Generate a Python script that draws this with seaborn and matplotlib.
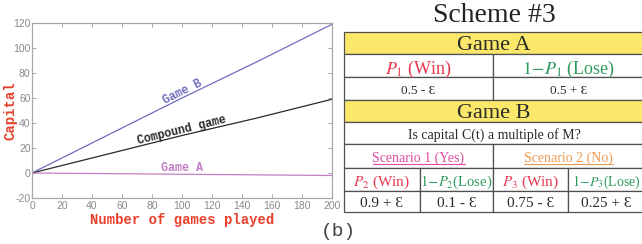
import numpy as np
import pandas as pd
import seaborn as sns
import matplotlib
matplotlib.use("Agg")
import matplotlib.pyplot as plt
from matplotlib.patches import Rectangle

# values
games = [0, 50, 100, 150, 200]
game_b = [0, 30, 60, 89, 119]
compound = [0, 15, 30, 44, 59]
game_a = [0, -0.5, -1, -1.5, -2]
series_names = ["Game B", "Compound game", "Game A"]
series_colors = ["#6e6ebe", "#2a2a2a", "#c27ec4"]
x_ticks = list(range(0, 201, 20))
y_ticks = list(range(-20, 121, 20))

# table content of the right panel
red, green, pink, orange = "#e8384f", "#2f9a5e", "#e04a9e", "#f09a50"
dark, yellow = "#2a2a2a", "#fbe86a"
table_rows = [
    [("Game A", 0, 4, dark, 16)],
    [(r"$P_{1}$ (Win)", 0, 2, red, 13), (r"$\mathit{1\!-\!P}_{1}$ (Lose)", 2, 4, green, 13)],
    [("0.5 - Ɛ", 0, 2, dark, 9.5), ("0.5 + Ɛ", 2, 4, dark, 9.5)],
    [("Game B", 0, 4, dark, 16)],
    [("Is capital C(t) a multiple of M?", 0, 4, dark, 10)],
    [("Scenario 1 (Yes)", 0, 2, pink, 10), ("Scenario 2 (No)", 2, 4, orange, 10)],
    [(r"$P_{2}$ (Win)", 0, 1, red, 11), (r"$\mathit{1\!-\!P}_{2}$(Lose)", 1, 2, green, 10.5),
     (r"$P_{3}$ (Win)", 2, 3, red, 11), (r"$\mathit{1\!-\!P}_{3}$(Lose)", 3, 4, green, 10)],
    [("0.9 + Ɛ", 0, 1, dark, 11), ("0.1 - Ɛ", 1, 2, dark, 11),
     ("0.75 - Ɛ", 2, 3, dark, 11), ("0.25 + Ɛ", 3, 4, dark, 11)],
]
yellow_rows = [0, 3]
underlined_rows = [5]
col_edges = [344, 420, 493, 568, 644]
row_edges = [32, 54, 77, 100, 122, 144, 168, 191, 212]

df = pd.DataFrame({
    "games": games * 3,
    "capital": game_b + compound + game_a,
    "series": [n for n in series_names for _ in games],
})

sns.set_style("ticks")
plt.rcParams["font.family"] = ["Liberation Sans", "DejaVu Sans"]
plt.rcParams["mathtext.fontset"] = "stix"
plt.rcParams["axes.unicode_minus"] = False
serif = ["Liberation Serif", "DejaVu Serif"]

fig = plt.figure(figsize=(6.42, 2.44), dpi=100)
ax = fig.add_axes([32 / 642, 46 / 244, 300 / 642, 175 / 244])
sns.lineplot(data=df, x="games", y="capital", hue="series", hue_order=series_names,
             palette=series_colors, legend=False, linewidth=0.9, ax=ax)
ax.set_xlim(0, 200)
ax.set_ylim(-20, 120)
ax.set_xticks(x_ticks)
ax.set_yticks(y_ticks)
ax.tick_params(direction="in", length=3, width=0.6, colors="#9a9a9a", labelcolor="#8a8a8a",
               labelsize=7.5, top=True, right=True, pad=2)
ax.tick_params(axis="y", pad=1)
for s in ax.spines.values():
    s.set_color("#a8a8a8")
    s.set_linewidth(0.9)

mono = {"family": "Liberation Mono", "weight": "bold"}
ax.set_xlabel("Number of games played", color="#e8402a", fontsize=10, **mono)
ax.set_ylabel("Capital", color="#e8402a", fontsize=10, **mono)
ax.xaxis.set_label_coords(0.5, -0.085)
ax.yaxis.set_label_coords(-0.05, 0.5)

ax.text(100, 64.5, "Game B", color=series_colors[0], fontsize=8.5, rotation=26.4,
        ha="center", va="center", rotation_mode="anchor", **mono)
ax.text(100, 34.5, "Compound game", color=series_colors[1], fontsize=8.5, rotation=13.8,
        ha="center", va="center", rotation_mode="anchor", **mono)
ax.text(100, 4, "Game A", color=series_colors[2], fontsize=8.5,
        ha="center", va="center", **mono)

# overlay in pixel coordinates for the table
ov = fig.add_axes([0, 0, 1, 1])
ov.set_xlim(0, 642)
ov.set_ylim(244, 0)
ov.axis("off")
ov.patch.set_alpha(0)

ov.text(494, 22, "Scheme #3", fontsize=20, family=serif, color="#222222",
        ha="center", va="baseline")
ov.text(338, 232, "(b)", fontsize=14, family="Liberation Mono", color="#444444",
        ha="center", va="center")

under = []
for r, cells in enumerate(table_rows):
    y0, y1 = row_edges[r], row_edges[r + 1]
    for text, c0, c1, color, size in cells:
        x0, x1 = col_edges[c0], col_edges[c1]
        ov.add_patch(Rectangle((x0, y0), x1 - x0, y1 - y0,
                               facecolor=yellow if r in yellow_rows else "white",
                               edgecolor="#505050", linewidth=0.9))
        t = ov.text((x0 + x1) / 2, (y0 + y1) / 2 + 0.5, text, fontsize=size,
                    family=serif, color=color, ha="center", va="center_baseline")
        if r in underlined_rows:
            under.append((t, color))

fig.canvas.draw()
inv = ov.transData.inverted()
for t, color in under:
    bb = t.get_window_extent()
    (xa, ya), (xb, yb) = inv.transform([[bb.x0, bb.y0], [bb.x1, bb.y1]])
    ov.plot([xa, xb], [ya - 1, ya - 1], color=color, linewidth=0.8)

fig.savefig("out.png", dpi=100)
